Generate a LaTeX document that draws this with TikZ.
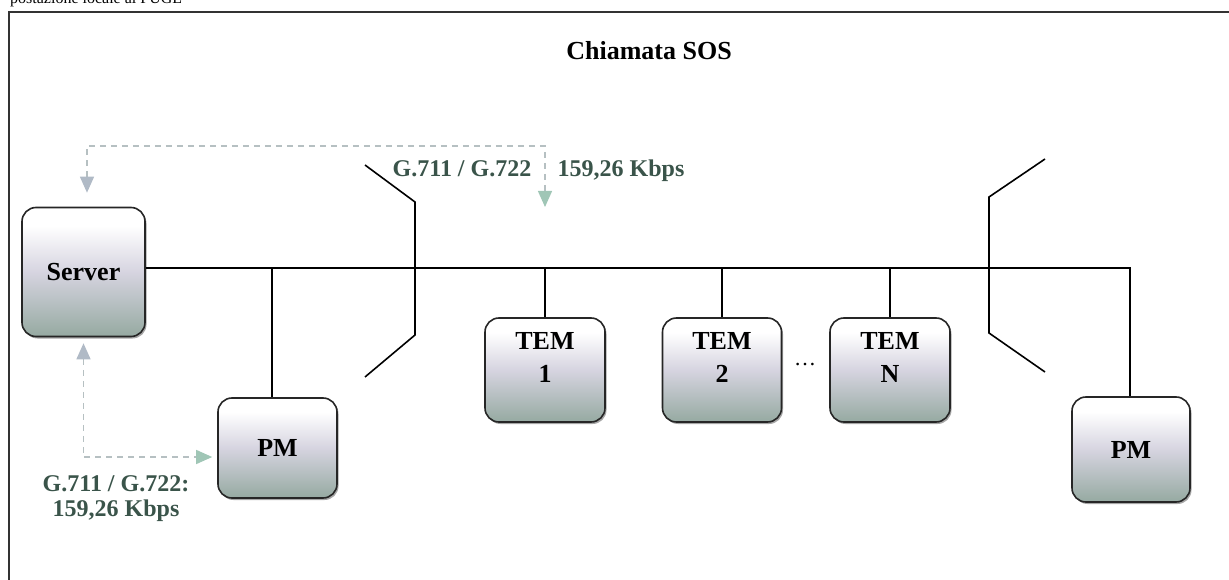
\documentclass[tikz,border=0pt]{standalone}
\usepackage{fontspec}
\setmainfont{Liberation Serif}
\usetikzlibrary{arrows.meta,shadows}

\definecolor{boxlow}{RGB}{138,162,150}
\definecolor{boxmid}{RGB}{214,212,224}
\definecolor{linkgray}{RGB}{182,192,194}
\definecolor{tipblue}{RGB}{176,186,198}
\definecolor{tipgreen}{RGB}{160,198,182}
\definecolor{labelgreen}{RGB}{58,84,74}

% device fill: white top, lavender grey middle, grey-green bottom
\pgfdeclareverticalshading{devshade}{100bp}{%
  color(0bp)=(boxlow); color(25bp)=(boxlow!85!boxmid); color(50bp)=(boxmid);
  color(68bp)=(white); color(100bp)=(white)}

\tikzset{
  tipb/.tip={Triangle[width=14pt,length=16pt,color=tipblue]},
  tipg/.tip={Triangle[width=14pt,length=16pt,color=tipgreen]},
}

\begin{document}
\begin{tikzpicture}[x=1pt,y=-1pt,
  box/.style={draw=black!85, line width=1.6pt, rounded corners=14pt,
    shading=devshade,
    drop shadow={shadow xshift=1.5pt, shadow yshift=-2pt, opacity=0.35, fill=black},
    font=\bfseries\fontsize{26}{33}\selectfont, align=center, inner sep=0pt},
  boxtext/.style={font=\bfseries\fontsize{26}{33}\selectfont, align=center, inner sep=0pt},
  bus/.style={draw=black, line width=1.6pt},
  frame/.style={draw=black!80, line width=2pt},
  link/.style={draw=linkgray, line width=1.3pt, dash pattern=on 6pt off 5pt},
  rate/.style={font=\bfseries\fontsize{24}{25}\selectfont, text=labelgreen, inner sep=0pt, align=center},
]
\useasboundingbox (0,0) rectangle (1229,580);
\clip (0,0) rectangle (1229,580);

% page caption running above the frame
\node[anchor=base west, inner sep=0pt, font=\fontsize{16}{18}\selectfont] (caption) at (10,4) {postazione locale al PUGL};

% frame
\draw[frame] (9,580) -- (9,12) -- (1229,12);

% title
\node[anchor=base, inner sep=0pt, font=\bfseries\fontsize{26}{28}\selectfont] (title) at (649,60) {Chiamata SOS};

% devices
\node[box, minimum width=123pt, minimum height=129pt] (server) at (83.5,272) {Server};
\node[box, minimum width=119pt, minimum height=100pt] (pml) at (277.5,448) {PM};
\node[box, minimum width=120pt, minimum height=104pt] (tem1) at (545,370) {};
\node[box, minimum width=119pt, minimum height=104pt] (tem2) at (722,370) {};
\node[box, minimum width=120pt, minimum height=104pt] (temn) at (890,370) {};
\node[box, minimum width=118pt, minimum height=105pt] (pmr) at (1131,449.5) {PM};

\node[boxtext] (tem1t) at (545,357) {TEM\\1};
\node[boxtext] (tem2t) at (722,357) {TEM\\2};
\node[boxtext] (temnt) at (890,357) {TEM\\N};
\node[anchor=base, inner sep=0pt, font=\fontsize{22}{24}\selectfont] (dots) at (805,365) {…};

% network bus and drops
\coordinate (busend) at (1130,268);
\draw[bus] (server.east |- 0,268) -- (busend) -- (busend |- pmr.north);
\draw[bus] (272,268) -- (272,0 |- pml.north);
\draw[bus] (tem1.north) -- (tem1.north |- busend);
\draw[bus] (tem2.north) -- (tem2.north |- busend);
\draw[bus] (temn.north) -- (temn.north |- busend);

% segment boundaries
\draw[bus] (365,165) -- (415,202) -- (415,335) -- (365,377);
\draw[bus] (1045,159) -- (989,197) -- (989,333) -- (1045,372);

% voice streams
\coordinate (tl) at (87,146);
\coordinate (tr) at (545,146);
\coordinate (tend) at (545,207);
\draw[link, tipb-tipg] ([xshift=3.5pt,yshift=14pt]server.north) -- (tl) -- (tr) -- (tend);
\draw[link, tipb-tipg] ([yshift=-6pt]server.south) |- ([xshift=-5pt,yshift=-9pt]pml.west);

% codec labels
\node[rate, anchor=base] (codec1) at (462,177) {G.711 / G.722};
\node[rate, anchor=base] (bw1) at (621,177) {159,26 Kbps};
\node[rate, anchor=base] (codec2) at (116,491) {G.711 / G.722:};
\node[rate, anchor=base] (bw2) at (116,516) {159,26 Kbps};
\end{tikzpicture}
\end{document}
